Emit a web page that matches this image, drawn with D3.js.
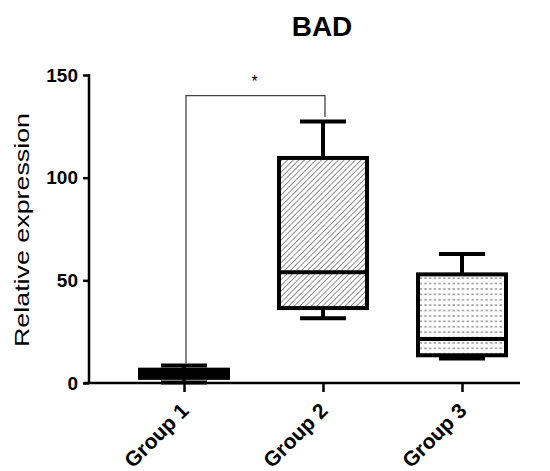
<!DOCTYPE html>
<html>
<head>
<meta charset="utf-8">
<script src="https://d3js.org/d3.v7.min.js"></script>
<style>
  body { margin: 0; background: #fff; }
  svg { display: block; font-family: Arial, "Liberation Sans", Helvetica, sans-serif; }
</style>
</head>
<body>
<div id="chart"></div>
<script>
// data
var groups = ["Group 1", "Group 2", "Group 3"];
var mins = [0.3, 31.5, 11.9];
var q1s = [2.5, 36.5, 13.5];
var medians = [4.5, 53.9, 21.4];
var q3s = [6.5, 109.6, 52.9];
var maxs = [8.5, 127.3, 62.8];
var fills = ["solid", "hatch", "dots"];
var yTicks = [0, 50, 100, 150];

// significance bracket between group 1 and group 2
var sigPair = ["Group 1", "Group 2"];
var sigLevel = 140;
var sigLegs = [9.7, 129.6];
var sigLabel = "*";

var svgWidth = 550;
var svgHeight = 471;

var svg = d3.select("#chart")
  .append("svg")
  .attr("width", svgWidth)
  .attr("height", svgHeight);

var defs = svg.append("defs");

// diagonal hatch for group 2
var hatch = defs.append("pattern")
  .attr("id", "hatch")
  .attr("patternUnits", "userSpaceOnUse")
  .attr("width", 4)
  .attr("height", 4)
  .attr("patternTransform", "rotate(45)");
hatch.append("rect").attr("width", 4).attr("height", 4).attr("fill", "#fff");
hatch.append("line")
  .attr("x1", 0).attr("y1", 0).attr("x2", 0).attr("y2", 4)
  .attr("stroke", "#7a7a7a")
  .attr("stroke-width", 1.7);

// dotted fill for group 3
var dots = defs.append("pattern")
  .attr("id", "dots")
  .attr("patternUnits", "userSpaceOnUse")
  .attr("width", 4.7)
  .attr("height", 5.4);
dots.append("rect").attr("width", 4.7).attr("height", 5.4).attr("fill", "#fff");
dots.append("rect")
  .attr("x", 1.4).attr("y", 2)
  .attr("width", 2.2).attr("height", 1.5)
  .attr("fill", "#8c8c8c");

// scales
var xScale = d3.scalePoint()
  .domain(groups)
  .range([184, 462]);

var yScale = d3.scaleLinear()
  .domain([0, 150])
  .range([383, 75]);

var boxWidth = 88;
var capWidth = 46;

var data = groups.map(function(g, i) {
  return { name: g, min: mins[i], q1: q1s[i], median: medians[i], q3: q3s[i], max: maxs[i], fill: fills[i] };
});

// axes
var leftAxis = d3.axisLeft(yScale)
  .tickValues(yTicks)
  .tickSize(6)
  .tickPadding(5);

var bottomAxis = d3.axisBottom(xScale)
  .tickSize(9)
  .tickFormat("");

var yAxis = svg.append("g")
  .attr("transform", "translate(89, 0)")
  .call(leftAxis);
yAxis.select(".domain").remove();
yAxis.append("line")
  .attr("x1", 0).attr("x2", 0)
  .attr("y1", yScale(150) - 1).attr("y2", yScale(0) + 1)
  .attr("stroke", "#000")
  .attr("stroke-width", 2.5);
yAxis.selectAll(".tick line")
  .attr("stroke", "#000")
  .attr("stroke-width", 2.5);
yAxis.selectAll(".tick text")
  .attr("fill", "#000")
  .style("font-size", "19px")
  .style("font-weight", "bold");

var xAxis = svg.append("g")
  .attr("transform", "translate(0, " + yScale(0) + ")")
  .call(bottomAxis);
xAxis.select(".domain").remove();
xAxis.append("line")
  .attr("x1", 84).attr("x2", 520)
  .attr("y1", 0).attr("y2", 0)
  .attr("stroke", "#000")
  .attr("stroke-width", 2.5);
xAxis.selectAll(".tick line")
  .attr("stroke", "#000")
  .attr("stroke-width", 2.5);

// rotated group labels
svg.append("g")
  .selectAll("text")
  .data(groups)
  .enter()
  .append("text")
  .attr("transform", d => "translate(" + (xScale(d) + 6) + ", 412) rotate(-45)")
  .style("text-anchor", "end")
  .style("font-size", "21px")
  .style("font-weight", "bold")
  .text(d => d);

// boxes
var boxGroup = svg.append("g")
  .selectAll("g")
  .data(data)
  .enter()
  .append("g");

// whiskers
boxGroup.append("line")
  .attr("x1", d => xScale(d.name)).attr("x2", d => xScale(d.name))
  .attr("y1", d => yScale(d.max)).attr("y2", d => yScale(d.q3))
  .attr("stroke", "#000").attr("stroke-width", 4);
boxGroup.append("line")
  .attr("x1", d => xScale(d.name)).attr("x2", d => xScale(d.name))
  .attr("y1", d => yScale(d.q1)).attr("y2", d => yScale(d.min))
  .attr("stroke", "#000").attr("stroke-width", 4);

// caps
boxGroup.append("line")
  .attr("x1", d => xScale(d.name) - capWidth / 2).attr("x2", d => xScale(d.name) + capWidth / 2)
  .attr("y1", d => yScale(d.max)).attr("y2", d => yScale(d.max))
  .attr("stroke", "#000").attr("stroke-width", 4);
boxGroup.append("line")
  .attr("x1", d => xScale(d.name) - capWidth / 2).attr("x2", d => xScale(d.name) + capWidth / 2)
  .attr("y1", d => yScale(d.min)).attr("y2", d => yScale(d.min))
  .attr("stroke", "#000").attr("stroke-width", 4);

boxGroup.append("rect")
  .attr("x", d => xScale(d.name) - boxWidth / 2)
  .attr("y", d => yScale(d.q3))
  .attr("width", boxWidth)
  .attr("height", d => yScale(d.q1) - yScale(d.q3))
  .attr("fill", function(d) {
    if (d.fill === "hatch") return "url(#hatch)";
    else if (d.fill === "dots") return "url(#dots)";
    return "#000";
  })
  .attr("stroke", "#000")
  .attr("stroke-width", 4);

// median lines
boxGroup.append("line")
  .attr("x1", d => xScale(d.name) - boxWidth / 2).attr("x2", d => xScale(d.name) + boxWidth / 2)
  .attr("y1", d => yScale(d.median)).attr("y2", d => yScale(d.median))
  .attr("stroke", "#000").attr("stroke-width", 4);

// significance bracket
var bx1 = xScale(sigPair[0]) + 2;
var bx2 = xScale(sigPair[1]) + 2;
svg.append("path")
  .attr("d", "M" + bx1 + "," + yScale(sigLegs[0]) +
    "V" + yScale(sigLevel) +
    "H" + bx2 +
    "V" + yScale(sigLegs[1]))
  .attr("fill", "none")
  .attr("stroke", "#444")
  .attr("stroke-width", 1.3);

svg.append("text")
  .attr("x", (bx1 + bx2) / 2 - 1)
  .attr("y", yScale(sigLevel) - 9)
  .style("text-anchor", "middle")
  .style("font-size", "16px")
  .text(sigLabel);

// title
svg.append("text")
  .attr("x", 322)
  .attr("y", 36)
  .style("text-anchor", "middle")
  .style("font-size", "28px")
  .style("font-weight", "bold")
  .text("BAD");

// y axis label
svg.append("text")
  .attr("transform", "translate(29, 230) rotate(-90)")
  .attr("textLength", 234)
  .attr("lengthAdjust", "spacingAndGlyphs")
  .style("text-anchor", "middle")
  .style("font-size", "21px")
  .text("Relative expression");
</script>
</body>
</html>
